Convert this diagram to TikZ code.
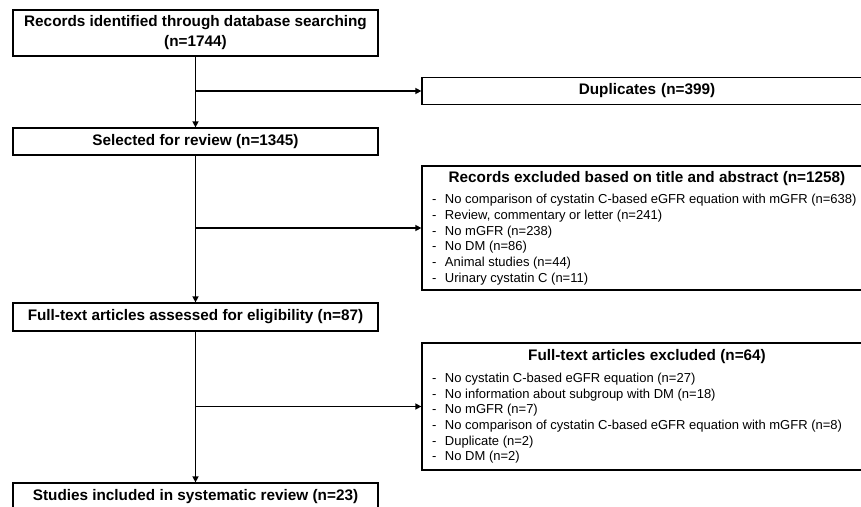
\documentclass[tikz,border=0pt]{standalone}
\usepackage{fontspec}
\setmainfont{Liberation Sans}
\usepackage{tikz}
\usetikzlibrary{arrows.meta}

\newcommand{\headfont}{\fontsize{15.3}{20}\selectfont\bfseries}
\newcommand{\listfont}{\fontsize{13}{15.7}\selectfont}
\newcommand{\dashitem}{\par\makebox[13pt][l]{-}}

\begin{document}
\begin{tikzpicture}[x=1pt, y=-1pt,
  mainbox/.style={draw, line width=1.3pt, minimum width=365pt, inner sep=2pt,
    align=center, font=\headfont},
  sidebox/.style={draw, line width=1.3pt, text width=430pt, inner xsep=10pt,
    inner ysep=2pt, align=flush left, font=\listfont},
  arr/.style={line width=1.6pt, -{Triangle[length=6pt,width=6pt]}}]
\clip (0,0) rectangle (861,506);
% Left column
\node[mainbox, minimum height=46pt] (records) at (195.5,33)
  {Records identified through database searching\\(n=1744)};
\node[mainbox, minimum height=27pt] (selected) at (195.5,141.5)
  {Selected for review (n=1345)};
\node[mainbox, minimum height=28pt] (fulltext) at (195.5,317)
  {Full-text articles assessed for eligibility (n=87)};
\node[mainbox, minimum height=28pt] (included) at (195.5,497)
  {Studies included in systematic review (n=23)};
% Right column
\node[sidebox, minimum height=27pt, align=center, font=\headfont] (dup) at (647,91)
  {Duplicates (n=399)};
\node[sidebox, minimum height=124pt] (exclA) at (647,228) {%
  {\centering\headfont Records excluded based on title and abstract (n=1258)\par}
  \vspace{6pt}
  \dashitem No comparison of cystatin C-based eGFR equation with mGFR (n=638)
  \dashitem Review, commentary or letter (n=241)
  \dashitem No mGFR (n=238)
  \dashitem No DM (n=86)
  \dashitem Animal studies (n=44)
  \dashitem Urinary cystatin C (n=11)};
\node[sidebox, minimum height=127pt] (exclB) at (647,406.5) {%
  {\centering\headfont Full-text articles excluded (n=64)\par}
  \vspace{6pt}
  \dashitem No cystatin C-based eGFR equation (n=27)
  \dashitem No information about subgroup with DM (n=18)
  \dashitem No mGFR (n=7)
  \dashitem No comparison of cystatin C-based eGFR equation with mGFR (n=8)
  \dashitem Duplicate (n=2)
  \dashitem No DM (n=2)};
% Flow down
\draw[arr] (records) -- (selected);
\draw[arr] (selected) -- (fulltext);
\draw[arr] (fulltext) -- (included);
% Branches to exclusions
\draw[arr] (records.south |- dup.west) -- (dup.west);
\draw[arr] (selected.south |- exclA.west) -- (exclA.west);
\draw[arr] (fulltext.south |- exclB.west) -- (exclB.west);
\end{tikzpicture}
\end{document}
